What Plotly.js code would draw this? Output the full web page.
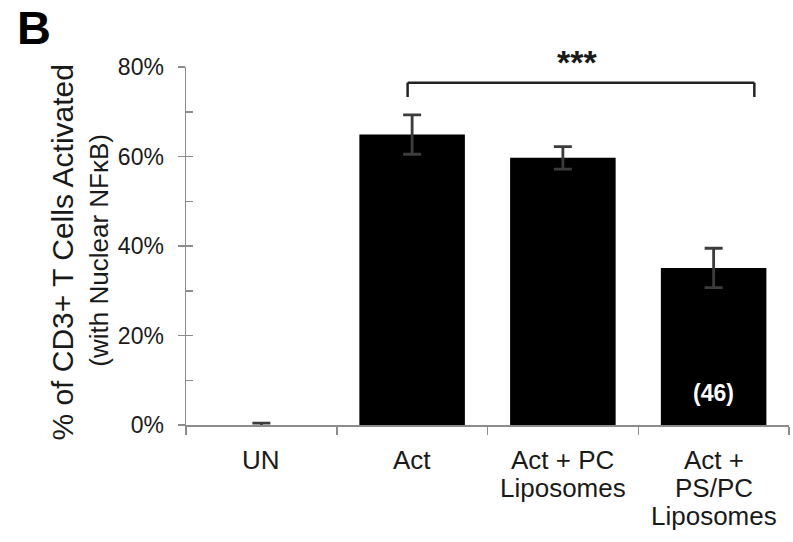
<!DOCTYPE html>
<html><head><meta charset="utf-8">
<script src="https://cdn.plot.ly/plotly-3.0.1.min.js"></script>
<style>html,body{margin:0;padding:0;background:#fff}</style>
</head><body><div id="chart" style="width:793px;height:542px"></div>
<script>
const categories = ["UN", "Act", "Act + PC", "Act + PS/PC"];
const tickLabels = [["UN"], ["Act"], ["Act + PC", "Liposomes"], ["Act +", "PS/PC", "Liposomes"]];
const values = [0, 64.9, 59.7, 35.1];
const errors = [0.4, 4.4, 2.5, 4.4];
const barNotes = ["", "", "", "(46)"];
const yTicks = [0, 20, 40, 60, 80];
const yTickText = ["0%", "20%", "40%", "60%", "80%"];
const bracketX = [0.97, 3.27];
const bracketY = [73.3, 76.5];
const sigText = "***";
const sigPos = [2.094, 80];
const yTitleLines = ["% of CD3+ T Cells Activated", "(with Nuclear NF\u03BAB)"];
const panelLabel = "B";

const FONT = 'Arial, "Liberation Sans", sans-serif';
const AX = '#8c8c8c';
const TXT = '#1a1a1a';

const traces = [
  {
    type: 'bar', x: categories, y: values,
    marker: {color: '#000000', line: {width: 0}},
    error_y: {type: 'data', array: errors, visible: true, color: '#3c3c3c', thickness: 2.8, width: 9},
    hoverinfo: 'skip'
  },
  {
    type: 'scatter', mode: 'markers', x: categories, y: values, yaxis: 'y2',
    marker: {opacity: 0, size: 1}, hoverinfo: 'skip', showlegend: false
  }
];

const annotations = [];
tickLabels.forEach((lines, i) => {
  lines.forEach((ln, j) => {
    annotations.push({
      x: i, y: 0, xref: 'x', yref: 'y', text: ln, showarrow: false,
      xanchor: 'center', yanchor: 'middle', yshift: -(34.5 + 28 * j),
      font: {family: FONT, size: 26, color: TXT}
    });
  });
});
barNotes.forEach((t, i) => {
  if (t) annotations.push({
    x: i, y: 7.1, xref: 'x', yref: 'y', text: '<b>' + t + '</b>', showarrow: false,
    xanchor: 'center', yanchor: 'middle', font: {family: FONT, size: 23, color: '#ffffff'}
  });
});
annotations.push({
  x: sigPos[0], y: sigPos[1], xref: 'x', yref: 'y', text: '<b>' + sigText + '</b>', showarrow: false,
  xanchor: 'center', yanchor: 'middle', yshift: 5, font: {family: FONT, size: 34, color: TXT}
});
annotations.push({
  x: -0.2048, y: 0.483, xref: 'paper', yref: 'paper', text: yTitleLines[0], showarrow: false,
  textangle: -90, xanchor: 'center', yanchor: 'middle', font: {family: FONT, size: 30, color: TXT}
});
annotations.push({
  x: -0.1443, y: 0.4898, xref: 'paper', yref: 'paper', text: yTitleLines[1], showarrow: false,
  textangle: -90, xanchor: 'center', yanchor: 'middle', font: {family: FONT, size: 26, color: TXT}
});
annotations.push({
  x: -0.2836, y: 1.1094, xref: 'paper', yref: 'paper', text: '<b>' + panelLabel + '</b>', showarrow: false,
  xanchor: 'left', yanchor: 'middle', font: {family: FONT, size: 47, color: '#000'}
});

const bl = {color: '#222222', width: 2.5};
const shapes = [
  {type: 'line', xref: 'x', yref: 'y', x0: bracketX[0], x1: bracketX[0], y0: bracketY[0], y1: bracketY[1], line: bl},
  {type: 'line', xref: 'x', yref: 'y', x0: bracketX[0], x1: bracketX[1], y0: bracketY[1], y1: bracketY[1], line: bl},
  {type: 'line', xref: 'x', yref: 'y', x0: bracketX[1], x1: bracketX[1], y0: bracketY[1], y1: bracketY[0], line: bl}
];

const layout = {
  width: 793, height: 542,
  margin: {l: 186, r: 4, t: 67, b: 117},
  paper_bgcolor: '#ffffff', plot_bgcolor: '#ffffff',
  showlegend: false, bargap: 0.3,
  xaxis: {
    type: 'category', range: [-0.5, 3.5], showline: true, linecolor: AX, linewidth: 1.5,
    ticks: 'outside', tickson: 'boundaries', ticklen: 8, tickwidth: 1.5, tickcolor: AX,
    showticklabels: false, showgrid: false, zeroline: false, fixedrange: true
  },
  yaxis: {
    range: [0, 80], tickvals: yTicks, ticktext: yTickText, ticks: 'outside', ticklen: 7,
    tickwidth: 1.5, tickcolor: AX, showline: true, linecolor: AX, linewidth: 1.5,
    showgrid: false, zeroline: false, ticklabelstandoff: 9,
    tickfont: {family: FONT, size: 23, color: TXT}, fixedrange: true
  },
  yaxis2: {
    overlaying: 'y', side: 'left', range: [0, 80], tick0: 0, dtick: 10, ticks: 'inside',
    ticklen: 7, tickwidth: 1.5, tickcolor: AX, showticklabels: false, showline: false,
    showgrid: false, zeroline: false, fixedrange: true
  },
  annotations: annotations,
  shapes: shapes
};

Plotly.newPlot('chart', traces, layout, {displayModeBar: false, staticPlot: true});
</script></body></html>
